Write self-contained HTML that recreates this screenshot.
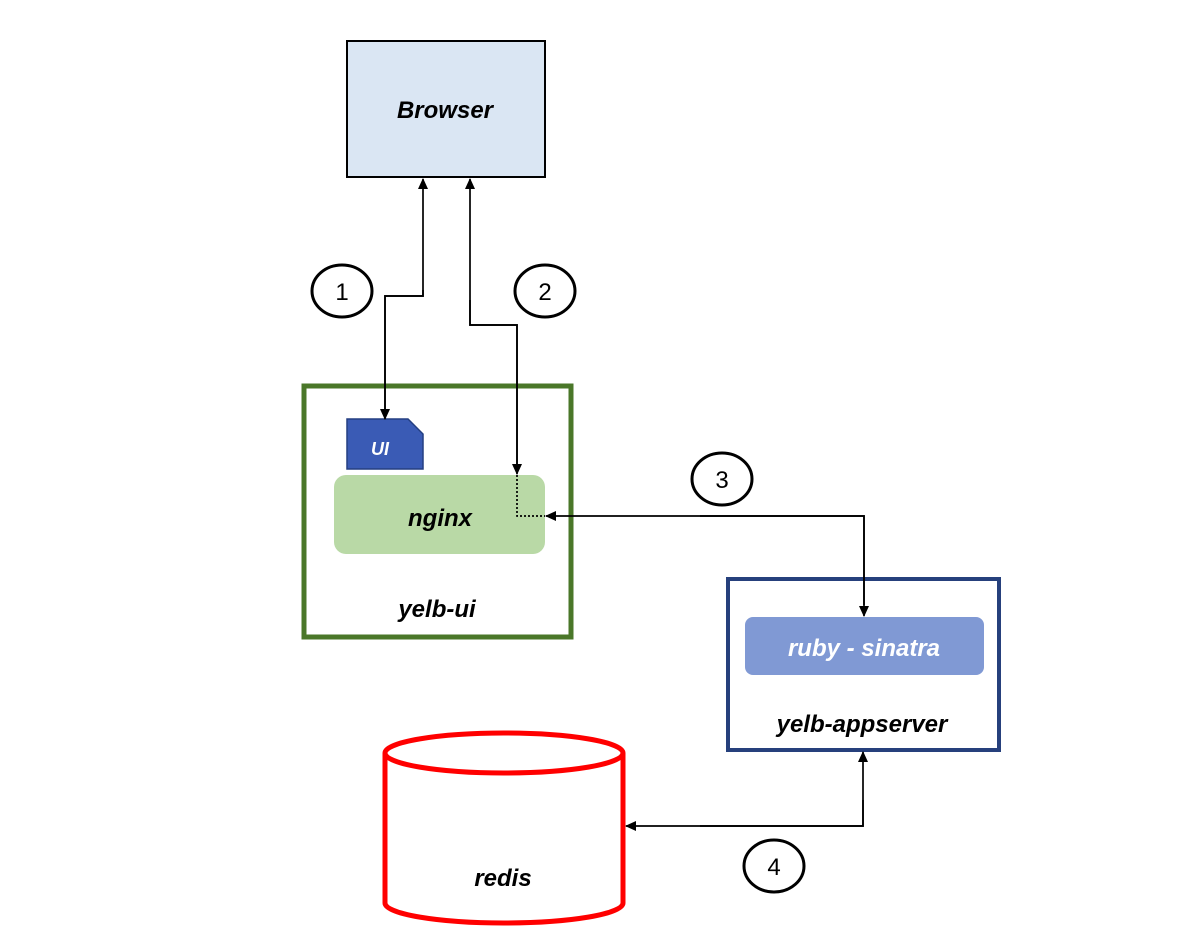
<!DOCTYPE html>
<html><head><meta charset="utf-8"><style>
html,body{margin:0;padding:0;background:#fff;width:1184px;height:950px;overflow:hidden}
text{font-family:"Liberation Sans",sans-serif}
.b{font-weight:bold;font-style:italic}
</style></head><body>
<svg width="1184" height="950" viewBox="0 0 1184 950" xmlns="http://www.w3.org/2000/svg">
<defs>
<marker id="a" markerWidth="11" markerHeight="10" refX="10" refY="5" orient="auto" markerUnits="userSpaceOnUse"><path d="M0,0 L11,5 L0,10 z" fill="#000"/></marker>
</defs>
<rect x="347" y="41" width="198" height="136" fill="#dae6f3" stroke="#000" stroke-width="2"/>
<text x="445" y="118" text-anchor="middle" font-size="24" class="b">Browser</text>

<rect x="304" y="386" width="267" height="251" fill="none" stroke="#4a7729" stroke-width="5"/>
<path d="M347,419 L408,419 L423,434 L423,469 L347,469 z" fill="#3a5bb5" stroke="#243f82" stroke-width="1.5"/>
<text x="380" y="455" text-anchor="middle" font-size="18" fill="#fff" class="b">UI</text>
<rect x="334" y="475" width="211" height="79" rx="12" fill="#b9d9a6"/>
<text x="440" y="526" text-anchor="middle" font-size="24" class="b">nginx</text>
<text x="437" y="617" text-anchor="middle" font-size="24" class="b">yelb-ui</text>

<rect x="728" y="579" width="271" height="171" fill="none" stroke="#26407c" stroke-width="4"/>
<rect x="745" y="617" width="239" height="58" rx="8" fill="#8099d4"/>
<text x="864" y="656" text-anchor="middle" font-size="24" fill="#fff" class="b">ruby - sinatra</text>
<text x="862" y="732" text-anchor="middle" font-size="24" class="b">yelb-appserver</text>

<path d="M385,753 L385,903 A119,20 0 0 0 623,903 L623,753" fill="#fff" stroke="#ff0000" stroke-width="5"/>
<ellipse cx="504" cy="753" rx="119" ry="20" fill="#fff" stroke="#ff0000" stroke-width="5"/>
<text x="503" y="886" text-anchor="middle" font-size="24" class="b">redis</text>

<g fill="none" stroke="#000" stroke-width="1.7">
<path d="M385,410 L385,296 L423,296 L423,179" marker-end="url(#a)"/>
<path d="M423,290 L423,296 L385,296 L385,419" marker-end="url(#a)"/>
<path d="M517,470 L517,325 L470,325 L470,179" marker-end="url(#a)"/>
<path d="M470,300 L470,325 L517,325 L517,474" marker-end="url(#a)"/>
<path d="M517,475 L517,516 L545,516" stroke-dasharray="2,2"/>
<path d="M864,605 L864,516 L546,516" marker-end="url(#a)"/>
<path d="M700,516 L864,516 L864,616" marker-end="url(#a)"/>
<path d="M863,800 L863,826 L626,826" marker-end="url(#a)"/>
<path d="M700,826 L863,826 L863,752" marker-end="url(#a)"/>
</g>

<g fill="#fff" stroke="#000" stroke-width="3">
<ellipse cx="342" cy="291" rx="30" ry="26"/>
<ellipse cx="545" cy="291" rx="30" ry="26"/>
<ellipse cx="722" cy="479" rx="30" ry="26"/>
<ellipse cx="774" cy="866" rx="30" ry="26"/>
</g>
<g font-size="24" text-anchor="middle">
<text x="342" y="300">1</text>
<text x="545" y="300">2</text>
<text x="722" y="488">3</text>
<text x="774" y="875">4</text>
</g>
</svg>
</body></html>
